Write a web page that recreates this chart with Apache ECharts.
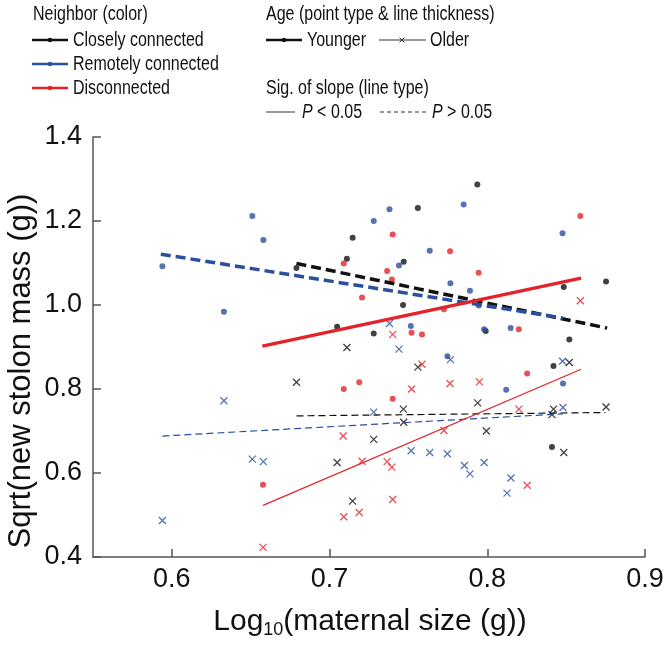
<!DOCTYPE html>
<html>
<head>
<meta charset="utf-8">
<script src="https://cdn.jsdelivr.net/npm/echarts@6/dist/echarts.min.js"></script>
<style>html,body{margin:0;padding:0;background:#fff;}#main{width:669px;height:651px;}</style>
</head>
<body>
<div id="main"></div>
<script>
// ---- data ----
const xTicks = [0.6, 0.7, 0.8, 0.9];
const yTicks = [0.4, 0.6, 0.8, 1.0, 1.2, 1.4];

const closelyYounger = [[0.679,1.088],[0.7146,1.160],[0.711,1.110],[0.756,1.231],[0.7937,1.287],[0.747,1.103],[0.7466,1.000],[0.7048,0.948],[0.728,0.932],[0.799,0.938],[0.852,0.918],[0.842,0.855],[0.8485,1.043],[0.8753,1.056],[0.841,0.662]];
const closelyOlder = [[0.711,0.899],[0.756,0.852],[0.679,0.816],[0.7939,0.767],[0.7468,0.752],[0.747,0.721],[0.728,0.680],[0.7994,0.700],[0.7048,0.625],[0.7146,0.533],[0.852,0.863],[0.842,0.752],[0.841,0.739],[0.8753,0.757],[0.8485,0.649]];
const remoteYounger = [[0.594,1.092],[0.651,1.212],[0.658,1.155],[0.633,0.984],[0.728,1.200],[0.738,1.228],[0.7635,1.129],[0.785,1.239],[0.744,1.094],[0.7766,1.052],[0.789,1.034],[0.7515,0.950],[0.7945,0.999],[0.8477,1.171],[0.798,0.942],[0.8148,0.945],[0.812,0.798],[0.848,0.813],[0.7747,0.878]];
const remoteOlder = [[0.738,0.956],[0.744,0.895],[0.7766,0.870],[0.728,0.745],[0.7517,0.653],[0.7635,0.649],[0.7747,0.646],[0.7855,0.618],[0.789,0.598],[0.798,0.625],[0.815,0.588],[0.8125,0.552],[0.8477,0.866],[0.848,0.756],[0.633,0.772],[0.651,0.633],[0.658,0.627],[0.594,0.487]];
const discYounger = [[0.709,1.099],[0.740,1.168],[0.7764,1.128],[0.7365,1.081],[0.7395,1.061],[0.7945,1.077],[0.7206,1.018],[0.7725,0.990],[0.859,1.212],[0.820,0.942],[0.8253,0.837],[0.752,0.934],[0.7586,0.930],[0.709,0.800],[0.7188,0.816],[0.740,0.777],[0.6578,0.572]];
const discOlder = [[0.859,1.010],[0.795,0.817],[0.820,0.752],[0.8253,0.571],[0.740,0.930],[0.7586,0.859],[0.752,0.800],[0.7764,0.813],[0.7086,0.688],[0.7725,0.701],[0.7206,0.628],[0.7365,0.627],[0.7395,0.614],[0.740,0.537],[0.709,0.496],[0.7188,0.506],[0.6578,0.423]];

// fitted lines: [start, end]
const fitCloselyYounger = [[0.679,1.099],[0.876,0.945]];   // dashed (P>0.05)
const fitRemoteYounger  = [[0.593,1.121],[0.848,0.969]];   // dashed
const fitDiscYounger    = [[0.6574,0.902],[0.8595,1.064]]; // solid (P<0.05)
const fitCloselyOlder   = [[0.679,0.736],[0.875,0.744]];   // dashed
const fitRemoteOlder    = [[0.594,0.688],[0.848,0.741]];   // dashed
const fitDiscOlder      = [[0.6578,0.523],[0.8595,0.847]]; // solid

// ---- styling ----
const BLACK = '#111111', BLUE = '#2a4f9e', RED = '#e3232a';
const FONT = '"Liberation Sans", Arial, sans-serif';
const CROSS = 'path://M0,0L10,10M10,0L0,10';

function dots(data, color) {
  return { type: 'scatter', data: data, symbol: 'circle', symbolSize: 6,
    itemStyle: { color: color }, z: 3, silent: true };
}
function crosses(data, color) {
  return { type: 'scatter', data: data, symbol: CROSS, symbolSize: 7,
    itemStyle: { color: 'transparent', borderColor: color, borderWidth: 1.3 }, z: 3, silent: true };
}
function fit(data, color, width, dashed) {
  return { type: 'line', data: data, showSymbol: false, silent: true, z: 4,
    lineStyle: { color: color, width: width, type: dashed ? (width > 2 ? [10, 5] : [7, 4]) : 'solid', cap: 'butt' } };
}

const chart = echarts.init(document.getElementById('main'), null, { renderer: 'canvas' });

function ltext(x, y, text, extra) {
  return Object.assign({ type: 'text', x: x, y: y, scaleX: 0.8,
    style: { text: text, font: '20px ' + FONT, fill: '#111', textAlign: 'left', textVerticalAlign: 'middle' } }, extra || {});
}
function lline(x1, x2, y, color, w, dash) {
  return { type: 'line', shape: { x1: x1, y1: y, x2: x2, y2: y },
    style: { stroke: color, lineWidth: w, lineDash: dash || null } };
}
function sline(x1, y1, x2, y2, color, w) {
  return { type: 'line', shape: { x1: x1, y1: y1, x2: x2, y2: y2 }, style: { stroke: color, lineWidth: w } };
}
function ldot(x, y, color, r) {
  return { type: 'circle', shape: { cx: x, cy: y, r: r }, style: { fill: color } };
}

const graphics = [
  ltext(33, 14, 'Neighbor (color)'),
  lline(32, 68, 40, BLACK, 2.7), ldot(50, 40, BLACK, 2.2), ltext(73, 40, 'Closely connected'),
  lline(32, 68, 64, BLUE, 2.7), ldot(50, 64, BLUE, 2.2), ltext(73, 64, 'Remotely connected'),
  lline(32, 68, 88, RED, 2.7), ldot(50, 88, RED, 2.2), ltext(73, 88, 'Disconnected'),
  ltext(266, 14, 'Age (point type & line thickness)'),
  lline(266, 302, 40, BLACK, 2.7), ldot(284, 40, BLACK, 2.2), ltext(307, 40, 'Younger'),
  lline(379, 426, 40, '#333', 1),
  sline(399.5, 37.5, 404.5, 42.5, '#333', 1), sline(404.5, 37.5, 399.5, 42.5, '#333', 1),
  ltext(430, 40, 'Older'),
  ltext(266, 88, 'Sig. of slope (line type)'),
  lline(266, 295, 112, '#333', 1),
  { type: 'text', x: 302, y: 112, scaleX: 0.8, style: { text: '{i|P} < 0.05', font: '20px ' + FONT, fill: '#111', textVerticalAlign: 'middle',
      rich: { i: { fontStyle: 'italic', fontSize: 20, fontFamily: FONT } } } },
  lline(380, 428, 112, '#333', 1, [4, 3]),
  { type: 'text', x: 432, y: 112, scaleX: 0.8, style: { text: '{i|P} > 0.05', font: '20px ' + FONT, fill: '#111', textVerticalAlign: 'middle',
      rich: { i: { fontStyle: 'italic', fontSize: 20, fontFamily: FONT } } } },
  // axis titles
  { type: 'text', x: 21, y: 371, rotation: Math.PI / 2,
    style: { text: 'Sqrt(new stolon mass (g))', font: '31px ' + FONT, fill: '#111', textAlign: 'center', textVerticalAlign: 'middle' } },
  { type: 'text', x: 370, y: 622,
    style: { text: '{m|Log}{s|10}{m|(maternal size (g))}', fill: '#111', textAlign: 'center', textVerticalAlign: 'middle',
      rich: { m: { fontSize: 30, fontFamily: FONT, lineHeight: 34 },
              s: { fontSize: 18, fontFamily: FONT, lineHeight: 34, padding: [16, 0, 0, 0] } } } }
];

const option = {
  animation: false,
  backgroundColor: '#fff',
  grid: { left: 93, right: 24, top: 137, bottom: 94, containLabel: false },
  xAxis: {
    type: 'value', min: 0.55, max: 0.9,
    axisLine: { show: true, onZero: false, lineStyle: { color: '#555', width: 1.5 } },
    axisTick: { show: true, inside: true, length: 8, customValues: xTicks, lineStyle: { color: '#555', width: 1.5 } },
    axisLabel: { customValues: xTicks, margin: 9, fontSize: 27, fontFamily: FONT, color: '#111',
      formatter: v => v.toFixed(1) },
    splitLine: { show: false }
  },
  yAxis: {
    type: 'value', min: 0.4, max: 1.4, interval: 0.2,
    axisLine: { show: true, onZero: false, lineStyle: { color: '#555', width: 1.5 } },
    axisTick: { show: true, inside: true, length: 8, lineStyle: { color: '#555', width: 1.5 } },
    axisLabel: { margin: 11, fontSize: 27, fontFamily: FONT, color: '#111', formatter: v => v.toFixed(1) },
    splitLine: { show: false }
  },
  graphic: graphics,
  series: [
    dots(closelyYounger, BLACK), crosses(closelyOlder, BLACK),
    dots(remoteYounger, BLUE), crosses(remoteOlder, BLUE),
    dots(discYounger, RED), crosses(discOlder, RED),
    fit(fitCloselyOlder, BLACK, 1.2, true),
    fit(fitRemoteOlder, BLUE, 1.2, true),
    fit(fitDiscOlder, RED, 1.2, false),
    fit(fitCloselyYounger, BLACK, 3.5, true),
    fit(fitRemoteYounger, BLUE, 3.5, true),
    fit(fitDiscYounger, RED, 3.5, false)
  ]
};
chart.setOption(option);
</script>
</body>
</html>
